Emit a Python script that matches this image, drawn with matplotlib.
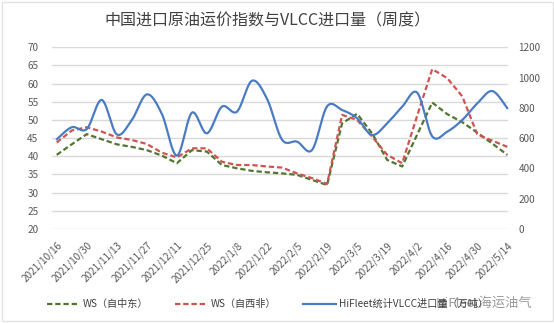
import numpy as np
import matplotlib
matplotlib.use("Agg")
import matplotlib.pyplot as plt
from matplotlib.patches import Rectangle
from matplotlib.lines import Line2D

plt.rcParams['font.family'] = ['Noto Sans CJK SC', 'DejaVu Sans']

# weekly observations
weeks = ["2021/10/16", "2021/10/23", "2021/10/30", "2021/11/6", "2021/11/13",
         "2021/11/20", "2021/11/27", "2021/12/4", "2021/12/11", "2021/12/18",
         "2021/12/25", "2022/1/1", "2022/1/8", "2022/1/15", "2022/1/22",
         "2022/1/29", "2022/2/5", "2022/2/12", "2022/2/19", "2022/2/26",
         "2022/3/5", "2022/3/12", "2022/3/19", "2022/3/26", "2022/4/2",
         "2022/4/9", "2022/4/16", "2022/4/23", "2022/4/30", "2022/5/7",
         "2022/5/14"]

# WS freight index, Middle East -> China
ws_me = [40.4, 43.3, 46.1, 44.7, 43.3, 42.6, 41.7, 40.2, 38.1, 41.7,
         41.3, 37.6, 36.7, 36.0, 35.6, 35.3, 34.9, 33.5, 32.1, 49.1,
         51.7, 46.3, 39.0, 37.2, 46.0, 54.8, 51.6, 49.4, 46.5, 43.5,
         40.4]

# WS freight index, West Africa -> China
ws_wa = [43.8, 47.1, 48.0, 46.8, 45.2, 44.5, 43.4, 41.0, 39.7, 42.2,
         42.2, 38.5, 37.6, 37.6, 37.2, 36.9, 35.3, 34.0, 32.4, 51.4,
         50.0, 45.4, 40.4, 38.1, 51.2, 64.0, 61.5, 56.5, 46.0, 44.3,
         42.6]

# VLCC crude imports, 10k tonnes
vlcc_imports = [592, 672, 660, 852, 625, 720, 889, 760, 485, 768,
                632, 808, 775, 979, 860, 590, 577, 522, 810, 786,
                731, 621, 698, 808, 900, 612, 643, 720, 830, 911,
                797]

title = "中国进口原油运价指数与VLCC进口量（周度）"
name_me = "WS（自中东）"
name_wa = "WS（自西非）"
name_vlcc = "HiFleet统计VLCC进口量（万吨）"
watermark = "HiFleet海运油气"

C_GREEN = "#527530"
C_RED = "#cf5451"
C_BLUE = "#4a7cc3"
C_TEXT = "#595959"
C_GRID = "#d9d9d9"


def smooth(values, n=24):
    """Bezier smoothing through every point (Catmull-Rom style)."""
    y = np.asarray(values, float)
    P = np.column_stack([np.arange(len(y), dtype=float), y])
    ext = np.vstack([P[0], P, P[-1]])
    t = np.linspace(0, 1, n, endpoint=False)[:, None]
    out = []
    for i in range(len(P) - 1):
        p0, p3 = P[i], P[i + 1]
        c1 = p0 + (ext[i + 2] - ext[i]) / 6.0
        c2 = p3 - (ext[i + 3] - ext[i + 1]) / 6.0
        out.append((1 - t) ** 3 * p0 + 3 * (1 - t) ** 2 * t * c1
                   + 3 * (1 - t) * t ** 2 * c2 + t ** 3 * p3)
    out.append(P[-1][None])
    pts = np.vstack(out)
    return pts[:, 0], pts[:, 1]


W, H = 554, 323
fig = plt.figure(figsize=(W / 100, H / 100), dpi=100)
fig.patch.set_facecolor("white")

# thin frame around the chart
fig.add_artist(Rectangle((1.5 / W, 2.5 / H), (W - 3) / W, (H - 4) / H,
                         transform=fig.transFigure, fill=False,
                         edgecolor="#e3e3e3", linewidth=1.0))

left, right, top, bottom = 51.7, 507.5, 47.3, 229.0
ax = fig.add_axes([left / W, 1 - bottom / H, (right - left) / W, (bottom - top) / H])
ax2 = ax.twinx()

x = np.arange(len(weeks))
ax.set_xlim(-0.333, len(weeks) - 1 + 0.01)
ax.set_ylim(20, 70)
ax.set_yticks(np.arange(20, 71, 5))
ax2.set_ylim(0, 1200)
ax2.set_yticks(np.arange(0, 1201, 200))

for a in (ax, ax2):
    for s in a.spines.values():
        s.set_visible(False)
    a.tick_params(length=0, colors=C_TEXT, labelsize=7.2)

ax.tick_params(axis="y", pad=9.5)
ax2.tick_params(axis="y", pad=7.8)
ax.yaxis.grid(True, color=C_GRID, linewidth=1.0)
ax.set_axisbelow(True)

tick_idx = x[::2]
ax.set_xticks(tick_idx)
ax.set_xticklabels([weeks[i] for i in tick_idx], rotation=45, ha="right",
                   va="top", rotation_mode="anchor", fontsize=7.2, color=C_TEXT)
ax.tick_params(axis="x", pad=8)

dash = (0, (2.4, 1.3))
ax.plot(x, ws_me, color=C_GREEN, lw=1.6, linestyle=dash, dash_capstyle="butt",
        clip_on=False)
ax.plot(x, ws_wa, color=C_RED, lw=1.6, linestyle=dash, dash_capstyle="butt",
        clip_on=False)
bx, by = smooth(vlcc_imports)
ax2.plot(bx, by, color=C_BLUE, lw=1.6, solid_capstyle="round", clip_on=False)

fig.text(268 / W, 1 - 21 / H, title, ha="center", va="center",
         fontsize=11.5, color="#404040")

handles = [Line2D([], [], color=C_GREEN, lw=1.6, linestyle=dash),
           Line2D([], [], color=C_RED, lw=1.6, linestyle=dash),
           Line2D([], [], color=C_BLUE, lw=1.6)]
fig.legend(handles, [name_me, name_wa, name_vlcc], loc="center left",
           bbox_to_anchor=(47 / W, 1 - 304 / H), ncol=3, frameon=False,
           fontsize=7.3, handlelength=3.3, handletextpad=0.25,
           columnspacing=2.6, borderpad=0, borderaxespad=0,
           labelcolor="#404040")

fig.text(436 / W, 1 - 303 / H, watermark, ha="left", va="center",
         fontsize=9.5, color="#8a8a8a", alpha=0.85)

fig.savefig("out.png", dpi=100, facecolor="white")
